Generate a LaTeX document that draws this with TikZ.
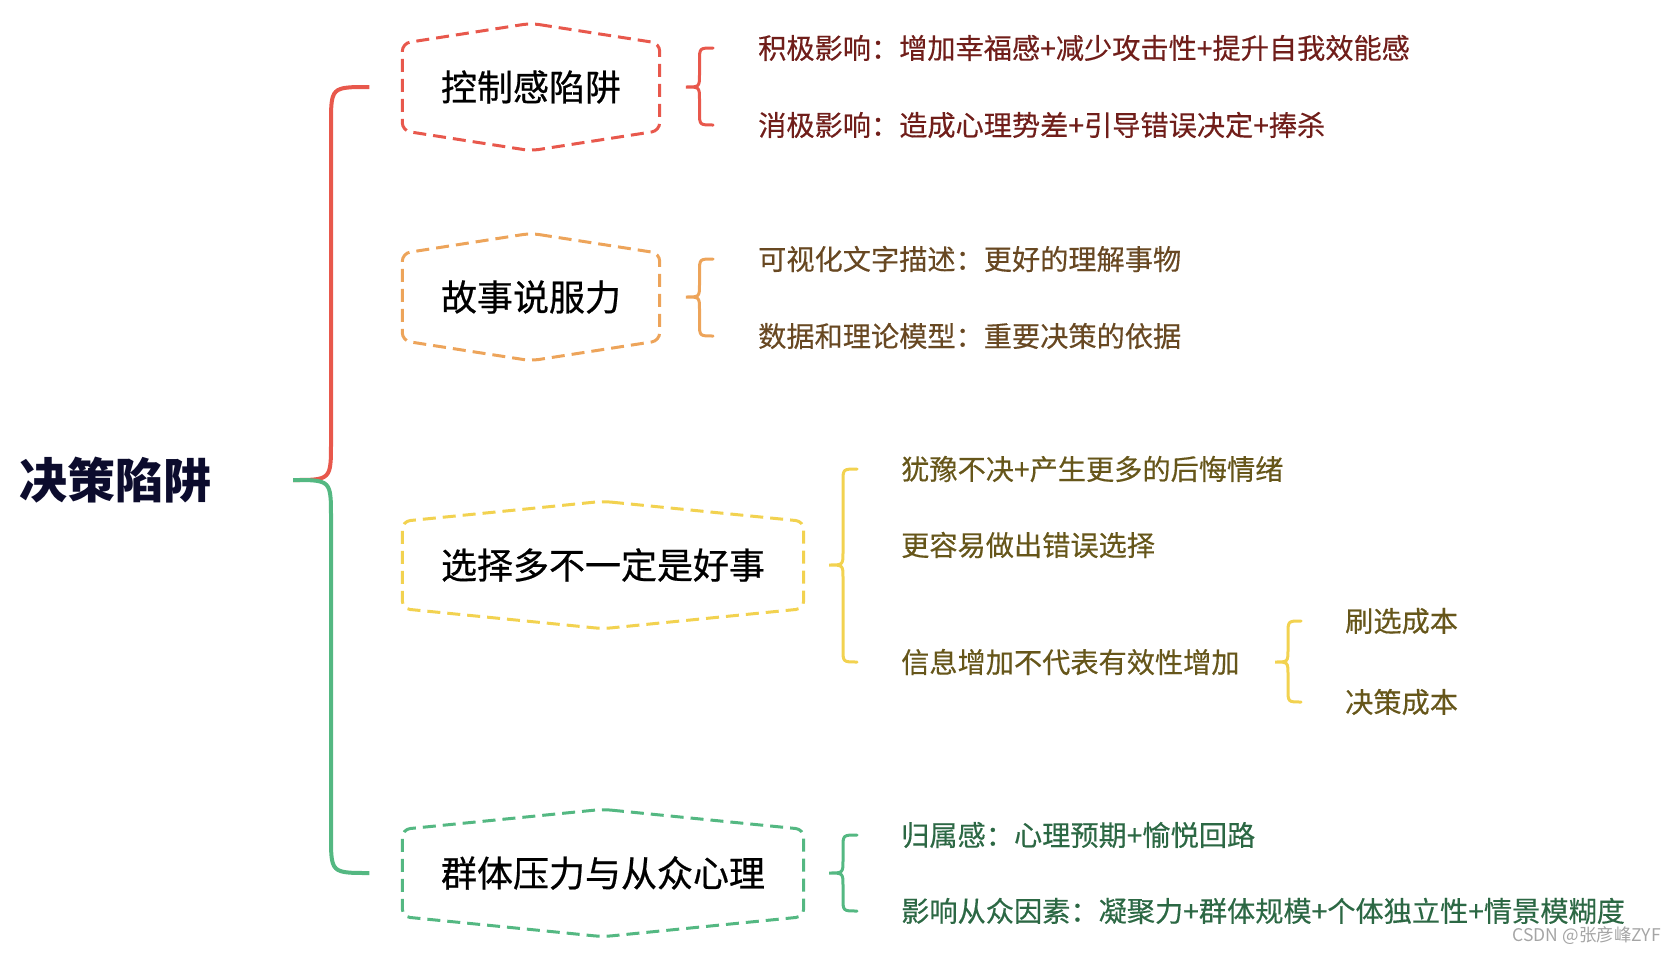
\documentclass[tikz,border=0pt]{standalone}
\usepackage{fontspec}
\setmainfont{Noto Sans CJK SC}
\newfontfamily\medfont[FakeBold=0.6]{Noto Sans CJK SC}
\newfontfamily\leaffont[FakeBold=0.35]{Noto Sans CJK SC}
\usetikzlibrary{calc}
\definecolor{cRed}{RGB}{232,88,76}
\definecolor{cOra}{RGB}{237,164,90}
\definecolor{cYel}{RGB}{242,210,80}
\definecolor{cGrn}{RGB}{84,184,130}
\definecolor{tRed}{RGB}{112,30,26}
\definecolor{tOra}{RGB}{104,72,34}
\definecolor{tYel}{RGB}{102,86,26}
\definecolor{tGrn}{RGB}{44,104,68}
\definecolor{tRoot}{RGB}{12,12,45}
\definecolor{wmark}{RGB}{165,165,165}
\newcommand\hexframe[2]{%
  \draw[hexline,#2] (#1.north) -- ([yshift=-20pt]#1.north east) -- ([yshift=20pt]#1.south east)
    -- (#1.south) -- ([yshift=20pt]#1.south west) -- ([yshift=-20pt]#1.north west) -- cycle;}
% #1 colour, #2 x cusp, #3 x end, #4 top leaf, #5 parent centre, #6 bottom leaf
\newcommand\mbrace[6]{%
  \coordinate (bE) at (#3,0);
  \coordinate (bV) at ({(#2+#3)/2},0);
  \coordinate (bC) at (#2,0);
  \draw[bracel,#1] (#4.west -| bE) .. controls (#4.west -| bV) .. ([yshift=-13pt]#4.west -| bV)
    -- ([yshift=13pt]#5 -| bV) .. controls (#5 -| bV) .. (#5 -| bC)
    .. controls (#5 -| bV) .. ([yshift=-13pt]#5 -| bV)
    -- ([yshift=13pt]#6.west -| bV) .. controls (#6.west -| bV) .. (#6.west -| bE);}
\begin{document}
\begin{tikzpicture}[x=1pt,y=-1pt,
  hexbox/.style={inner sep=0pt, text=black, font=\medfont\fontsize{36}{40}\selectfont, minimum height=127pt},
  hexline/.style={line width=3pt, dash pattern=on 13pt off 7pt, rounded corners=8pt},
  leaf/.style={anchor=west, inner sep=0pt, font=\leaffont\fontsize{28.2}{32}\selectfont},
  trunk/.style={line width=4pt},
  bracel/.style={line width=3pt, line cap=round}]
\useasboundingbox (0,0) rectangle (1676,954);

% root
\node[anchor=west, inner sep=0pt, text=tRoot, font=\fontsize{48}{52}\selectfont\bfseries] (root) at (19,480) {决策陷阱};

% hexagon topics
\node[hexbox, minimum width=257pt] (h1) at (531,87) {控制感陷阱};
\node[hexbox, minimum width=257pt] (h2) at (531,297) {故事说服力};
\node[hexbox, minimum width=401pt] (h3) at (603,565) {选择多不一定是好事};
\node[hexbox, minimum width=401pt] (h4) at (603,873) {群体压力与从众心理};
\hexframe{h1}{cRed}
\hexframe{h2}{cOra}
\hexframe{h3}{cYel}
\hexframe{h4}{cGrn}

% trunk bracket
\coordinate (tc) at (293,480);
\coordinate (tv) at (331,0);
\draw[trunk,cRed] (tc) .. controls (tc -| tv) .. ([yshift=38pt]tc -| tv)
  -- ([yshift=-38pt]h1.west -| tv) .. controls (h1.west -| tv) .. ([xshift=-33pt]h1.west);
\draw[trunk,cGrn] (tc) .. controls (tc -| tv) .. ([yshift=-38pt]tc -| tv)
  -- ([yshift=38pt]h4.west -| tv) .. controls (h4.west -| tv) .. ([xshift=-33pt]h4.west);

% leaves
\node[leaf, text=tRed] (a1) at (758,48) {积极影响：增加幸福感+减少攻击性+提升自我效能感};
\node[leaf, text=tRed] (a2) at (758,125) {消极影响：造成心理势差+引导错误决定+捧杀};
\node[leaf, text=tOra] (b1) at (758,259) {可视化文字描述：更好的理解事物};
\node[leaf, text=tOra] (b2) at (758,336) {数据和理论模型：重要决策的依据};
\node[leaf, text=tYel] (c1) at (901,469) {犹豫不决+产生更多的后悔情绪};
\node[leaf, text=tYel] (c2) at (901,545) {更容易做出错误选择};
\node[leaf, text=tYel] (c3) at (901,662) {信息增加不代表有效性增加};
\node[leaf, text=tYel] (d1) at (1345,621) {刷选成本};
\node[leaf, text=tYel] (d2) at (1345,702) {决策成本};
\node[leaf, text=tGrn] (e1) at (901,835) {归属感：心理预期+愉悦回路};
\node[leaf, text=tGrn] (e2) at (901,911) {影响从众因素：凝聚力+群体规模+个体独立性+情景模糊度};

% braces
\mbrace{cRed}{686}{713}{a1}{h1.center}{a2}
\mbrace{cOra}{686}{713}{b1}{h2.center}{b2}
\mbrace{cYel}{829}{857}{c1}{h3.center}{c3}
\mbrace{cYel}{1275}{1301}{d1}{c3.west}{d2}
\mbrace{cGrn}{829}{857}{e1}{h4.center}{e2}

% watermark
\node[anchor=east, inner sep=0pt, text=wmark, font=\fontsize{17.5}{19}\selectfont] (wm) at (1661,936) {CSDN @张彦峰ZYF};
\end{tikzpicture}
\end{document}
